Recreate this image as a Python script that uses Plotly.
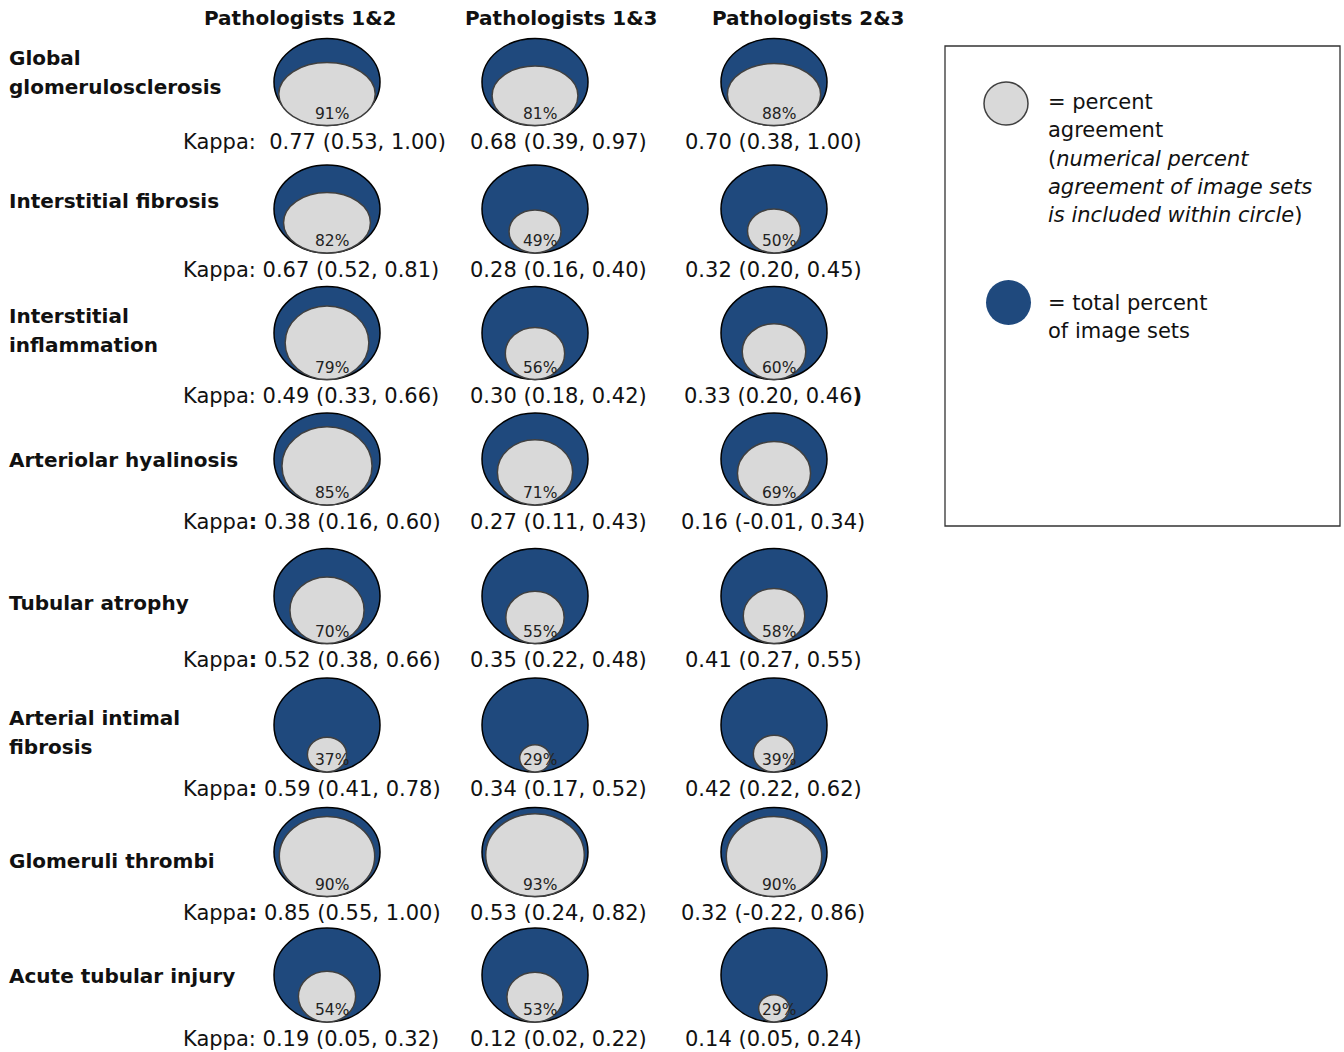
import plotly.graph_objects as go

# ---------------- data ----------------
row_labels = ["Global\nglomerulosclerosis", "Interstitial fibrosis", "Interstitial\ninflammation",
              "Arteriolar hyalinosis", "Tubular atrophy", "Arterial intimal\nfibrosis",
              "Glomeruli thrombi", "Acute tubular injury"]
col_labels = ["Pathologists 1&2", "Pathologists 1&3", "Pathologists 2&3"]

pct_agree = [[91, 81, 88], [82, 49, 50], [79, 56, 60], [85, 71, 69],
             [70, 55, 58], [37, 29, 39], [90, 93, 90], [54, 53, 29]]
kappa_est = [[0.77, 0.68, 0.70], [0.67, 0.28, 0.32], [0.49, 0.30, 0.33], [0.38, 0.27, 0.16],
             [0.52, 0.35, 0.41], [0.59, 0.34, 0.42], [0.85, 0.53, 0.32], [0.19, 0.12, 0.14]]
kappa_lo = [[0.53, 0.39, 0.38], [0.52, 0.16, 0.20], [0.33, 0.18, 0.20], [0.16, 0.11, -0.01],
            [0.38, 0.22, 0.27], [0.41, 0.17, 0.22], [0.55, 0.24, -0.22], [0.05, 0.02, 0.05]]
kappa_hi = [[1.00, 0.97, 1.00], [0.81, 0.40, 0.45], [0.66, 0.42, 0.46], [0.60, 0.43, 0.34],
            [0.66, 0.48, 0.55], [0.78, 0.52, 0.62], [1.00, 0.82, 0.86], [0.32, 0.22, 0.24]]

legend_agree = ["= percent", "agreement", "(<i>numerical percent</i>",
                "<i>agreement of image sets</i>", "<i>is included within circle</i>)"]
legend_total = ["= total percent", "of image sets"]

# ---------------- layout / style ----------------
W, H = 1344, 1052
FONT = "DejaVu Sans"
NAVY = "#1F497D"
GRAY = "#D9D9D9"

col_x = [327, 535, 774]
row_cy = [82, 209, 333, 459, 596, 725, 852, 975]
outer_h = [87, 88, 93, 92, 95, 94, 89, 94]
outer_w = 106
flat = [1, 1, 0, 0, 0, 0, 0, 0]
label_y = [72, 201, 330, 460, 603, 732, 861, 976]
bold_colon = [0, 0, 0, 1, 1, 1, 1, 0]

shapes = []
ann = []


def text(x, y, s, size, bold=False, xanchor="center", color="#111"):
    ann.append(dict(x=x, y=y, xref="x", yref="y", text=("<b>%s</b>" % s) if bold else s,
                    showarrow=False, xanchor=xanchor, yanchor="middle", borderpad=0,
                    font=dict(family=FONT, size=size, color=color)))


# headers
for j, c in enumerate(col_labels):
    text([300, 561, 808][j], 18, c, 20, bold=True)

for i, lab in enumerate(row_labels):
    lines = lab.split("\n")
    n = len(lines)
    for k, ln in enumerate(lines):
        text(8, label_y[i] + (k - (n - 1) / 2) * 29, ln, 20, bold=True, xanchor="left")

    h = outer_h[i]
    top = row_cy[i] - h / 2
    bot = row_cy[i] + h / 2
    for j in range(3):
        cx = col_x[j]
        p = pct_agree[i][j] / 100
        shapes.append(dict(type="circle", xref="x", yref="y",
                           x0=cx - outer_w / 2, x1=cx + outer_w / 2, y0=top, y1=bot,
                           fillcolor=NAVY, line=dict(color="#000", width=1.5)))
        iw = p * outer_w
        ih = p * h * (1 - flat[i] * 0.5 * max(0.0, p - 0.5))
        shapes.append(dict(type="circle", xref="x", yref="y",
                           x0=cx - iw / 2, x1=cx + iw / 2, y0=bot - ih, y1=bot,
                           fillcolor=GRAY, line=dict(color="#404040", width=1.5)))
        text(cx + 5, bot - 12, "%d%%" % pct_agree[i][j], 15.5, color="#222")

        val = "%.2f (%.2f, %.2f" % (kappa_est[i][j], kappa_lo[i][j], kappa_hi[i][j])
        close = "<b>)</b>" if (i == 2 and j == 2) else ")"
        val = val + close
        ky = bot + 16.5
        if j == 0:
            colon = "<b>:</b>" if bold_colon[i] else ":"
            sp = " \u00a0" if i == 0 else " "
            text(182, ky, "Kappa" + colon + sp + val, 21, xanchor="left")
        elif j == 1:
            text(558, ky, val, 21)
        else:
            text(773, ky, val, 21)

# legend box
shapes.append(dict(type="rect", xref="x", yref="y", x0=945, x1=1340, y0=46, y1=526,
                   line=dict(color="#333", width=1.3), fillcolor="rgba(0,0,0,0)"))
shapes.append(dict(type="circle", xref="x", yref="y", x0=984, x1=1028, y0=82, y1=125,
                   fillcolor=GRAY, line=dict(color="#404040", width=1.5)))
shapes.append(dict(type="circle", xref="x", yref="y", x0=986, x1=1031, y0=280, y1=325,
                   fillcolor=NAVY, line=dict(color=NAVY, width=0)))
for k, s in enumerate(legend_agree):
    text(1047, 102 + k * 28.3, s, 21, xanchor="left")
for k, s in enumerate(legend_total):
    text(1047, 303 + k * 28.3, s, 21, xanchor="left")

fig = go.Figure()
fig.update_layout(width=W, height=H, margin=dict(l=0, r=0, t=0, b=0),
                  paper_bgcolor="white", plot_bgcolor="white",
                  xaxis=dict(range=[0, W], visible=False, fixedrange=True),
                  yaxis=dict(range=[H, 0], visible=False, fixedrange=True),
                  shapes=shapes, annotations=ann, showlegend=False)
fig.write_html("out.html")
